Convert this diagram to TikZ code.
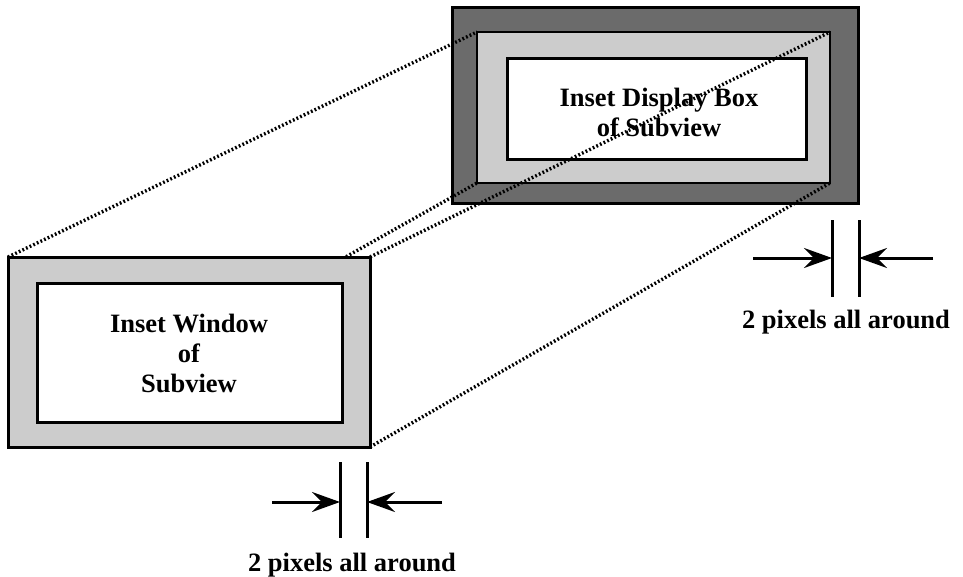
\documentclass[tikz,border=0pt]{standalone}
\usepackage{fontspec}
\setmainfont{Liberation Serif}
\usetikzlibrary{arrows.meta}
\pgfdeclarelayer{back}
\pgfdeclarelayer{mid}
\pgfsetlayers{back,mid,main}
\definecolor{lightdot}{gray}{0.80}
\definecolor{darkdot}{gray}{0.42}
\tikzset{
  frame/.style={draw=black, line width=3pt, inner sep=0pt, outer sep=0pt},
  lbl/.style={font=\bfseries\fontsize{26.5}{30}\selectfont, align=center, inner sep=0pt},
  proj/.style={line width=3.4pt, dash pattern=on 1.8pt off 2.2pt},
  bar/.style={line width=3pt},
  dimarrow/.style={line width=3pt, -{Stealth[length=28pt,width=20pt,inset=10pt]}},
}
\begin{document}
\begin{tikzpicture}[x=1pt,y=-1pt]
\useasboundingbox (0,0) rectangle (963,576);
\begin{pgfonlayer}{back}
\fill[white] (0,0) rectangle (963,576);
% right box (display box)
\node[frame, fill=darkdot, minimum width=406pt, minimum height=196pt] (rd) at (655,105) {};
\node[frame, line width=2.5pt, fill=lightdot, minimum width=353pt, minimum height=151pt] (rl) at (653.5,107.5) {};
\node[frame, fill=white, minimum width=299pt, minimum height=101pt] (rw) at (656.5,108.5) {};
\node[lbl] (rt) at (659,112) {Inset Display Box\\of Subview};
\end{pgfonlayer}
% left box (inset window)
\node[frame, fill=lightdot, minimum width=362pt, minimum height=190pt] (lw) at (189,352) {};
\node[frame, fill=white, minimum width=305pt, minimum height=139pt] (lwi) at (189.5,352.5) {};
\node[lbl] (lt) at (189,353) {Inset Window\\of\\Subview};
% projection lines
\begin{pgfonlayer}{mid}
\draw[proj] (lw.north west) -- (rl.north west);
\draw[proj] (lw.north east) -- (rl.north east);
\draw[proj] (lw.south east) -- (rl.south east);
\draw[proj] (lw.south west) -- (rl.south west);
\end{pgfonlayer}
% left dimension marker
\coordinate (lb1t) at (340,462);
\coordinate (lb1b) at (340,538);
\coordinate (lb2t) at (367,462);
\coordinate (lb2b) at (367,538);
\coordinate (la1) at (340,502);
\coordinate (la2) at (367,502);
\coordinate (la1s) at (272,502);
\coordinate (la2s) at (442,502);
\draw[bar] (lb1t) -- (lb1b);
\draw[bar] (lb2t) -- (lb2b);
\draw[dimarrow] (la1s) -- (la1);
\draw[dimarrow] (la2s) -- (la2);
\node[lbl, anchor=base] (ltxt) at (352,571) {2 pixels all around};
% right dimension marker
\coordinate (rb1t) at (832,220);
\coordinate (rb1b) at (832,297);
\coordinate (rb2t) at (859,220);
\coordinate (rb2b) at (859,297);
\coordinate (ra1) at (832,258);
\coordinate (ra2) at (859,258);
\coordinate (ra1s) at (753,258);
\coordinate (ra2s) at (933,258);
\draw[bar] (rb1t) -- (rb1b);
\draw[bar] (rb2t) -- (rb2b);
\draw[dimarrow] (ra1s) -- (ra1);
\draw[dimarrow] (ra2s) -- (ra2);
\node[lbl, anchor=base] (rtxt) at (846,328) {2 pixels all around};
\end{tikzpicture}
\end{document}
